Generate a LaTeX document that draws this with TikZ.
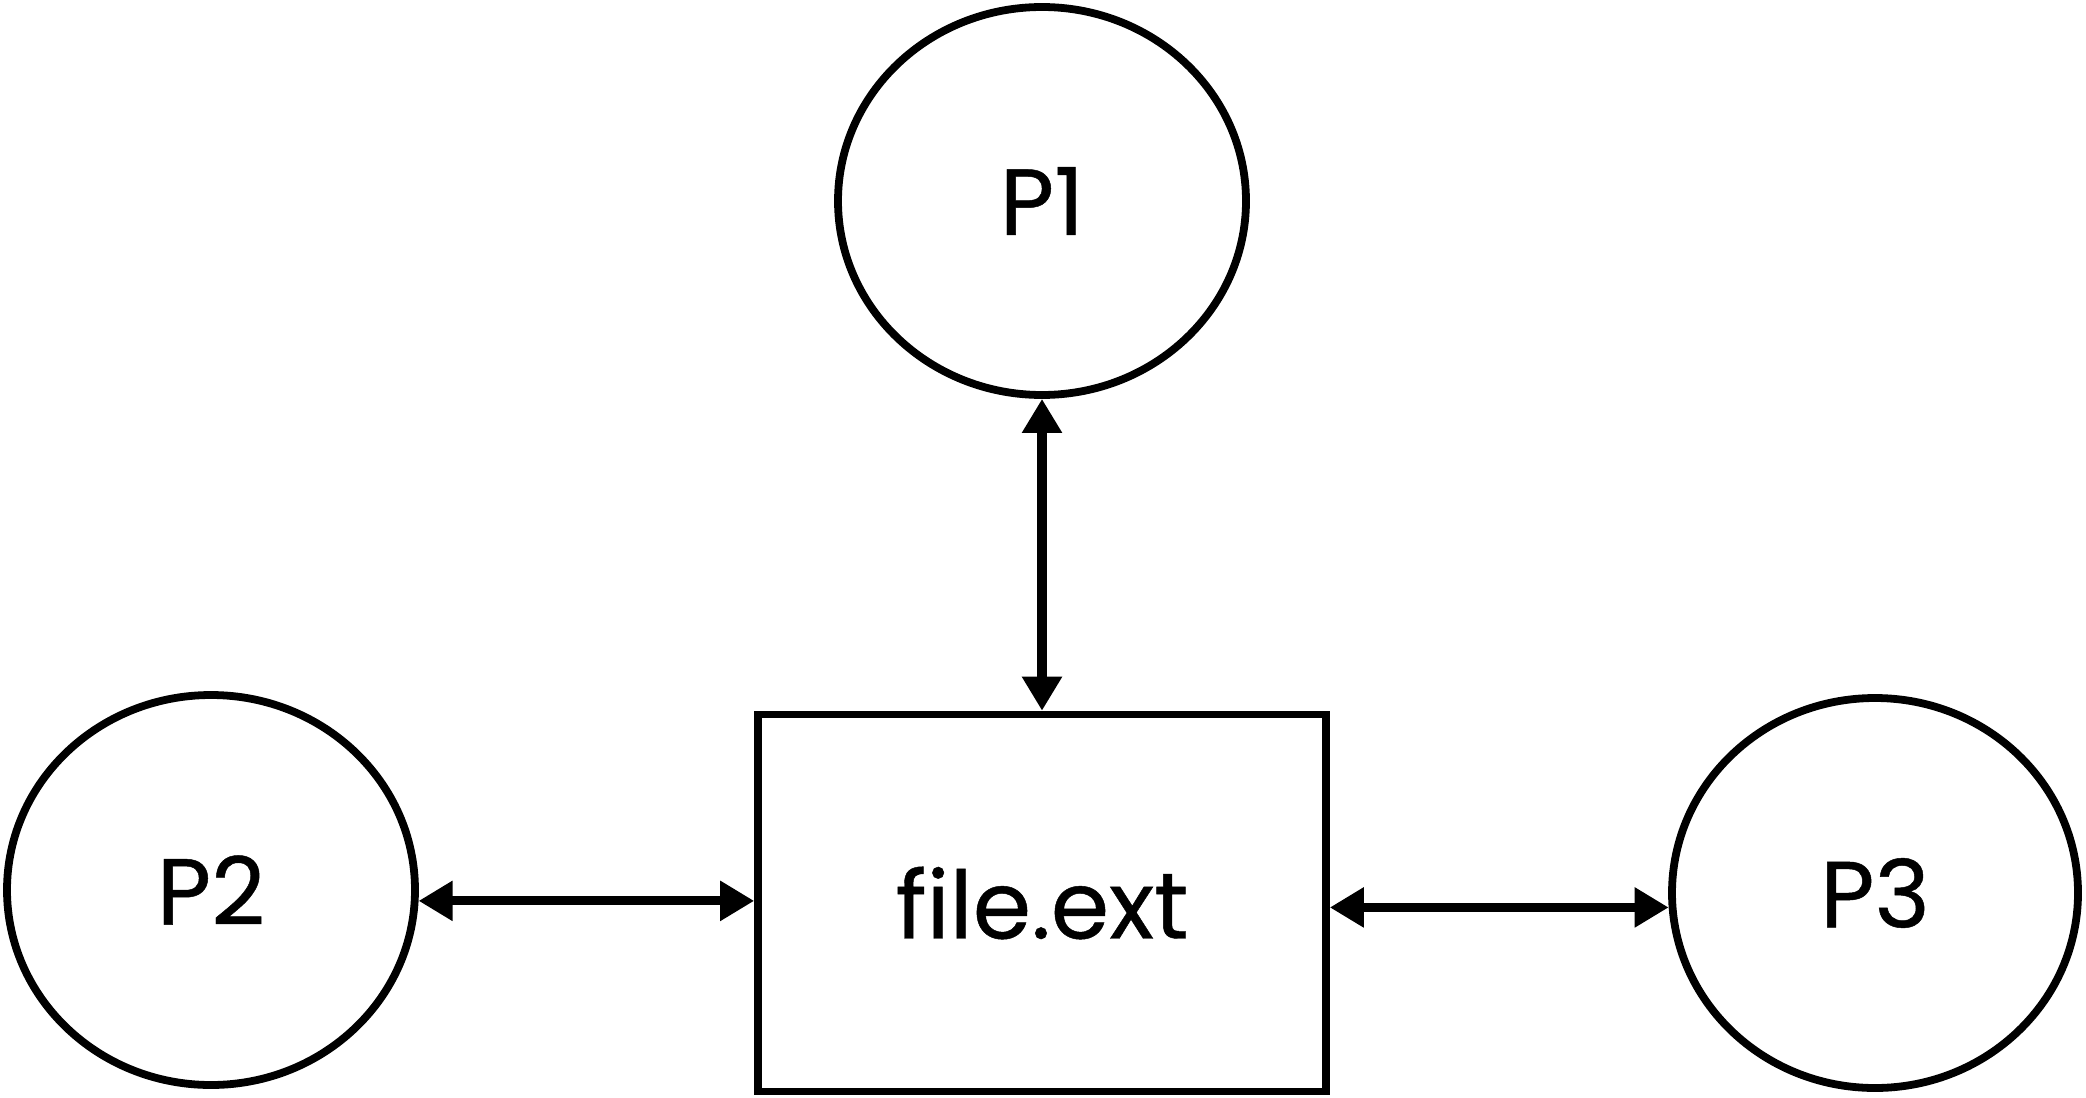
\documentclass[tikz,border=0pt]{standalone}
\usepackage{fontspec}
\setmainfont{Poppins}
\newfontfamily\labfont{Poppins}[FakeBold=0.5]
\usetikzlibrary{shapes.geometric,arrows.meta}
\begin{document}
\begin{tikzpicture}[x=0.5pt,y=-0.5pt,
  proc/.style={ellipse,draw,line width=3.9pt,inner sep=0pt,font=\labfont\fontsize{47}{56}\selectfont},
  filebox/.style={rectangle,draw,line width=3.8pt,inner sep=0pt,font=\labfont\fontsize{47}{56}\selectfont},
  link/.style={line width=4.6pt,{Triangle[length=17pt,width=19pt]}-{Triangle[length=17pt,width=19pt]}}]
\useasboundingbox (0,0) rectangle (2086,1097);
\node[proc,minimum width=204pt,minimum height=194pt] (p1) at (1042,201) {P1};
\node[proc,minimum width=204pt,minimum height=195pt] (p2) at (211,890) {P2};
\node[proc,minimum width=203pt,minimum height=195pt] (p3) at (1875,893) {P3};
\node[filebox,minimum width=284pt,minimum height=188.5pt] (file) at (1042,903) {file.ext};
\draw[link] (p1.south) -- (file.north);
\draw[link] (p2.-3.4) -- (p2.-3.4 -| file.west);
\draw[link] (file.east |- p3.184.5) -- (p3.184.5);
\end{tikzpicture}
\end{document}
